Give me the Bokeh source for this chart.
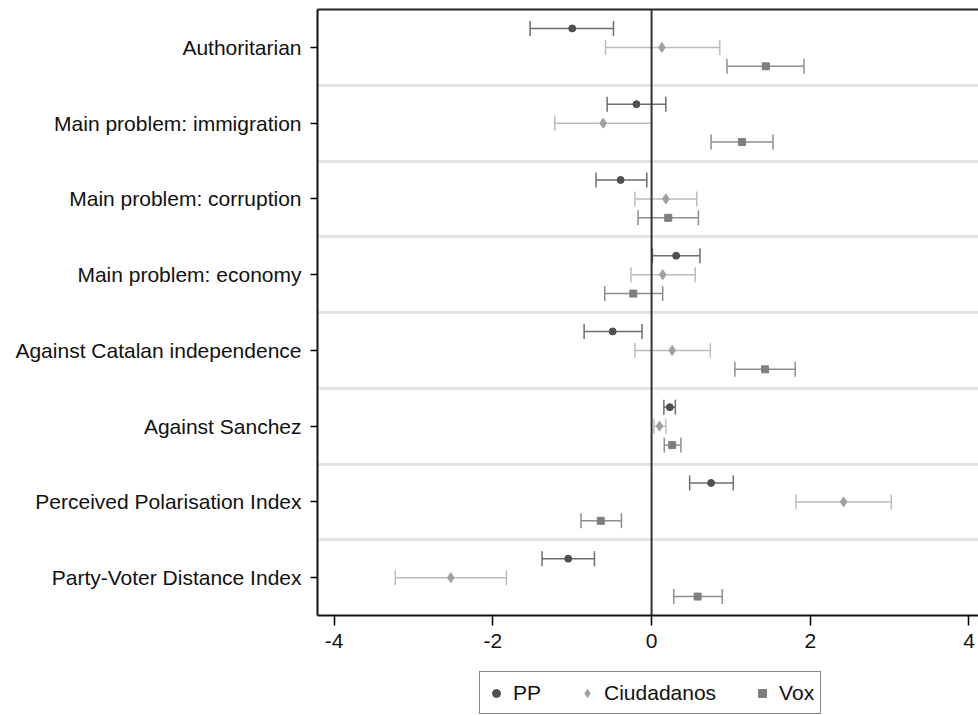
from bokeh.plotting import figure
from bokeh.layouts import column
from bokeh.models import (Range1d, FixedTicker, LinearAxis, Whisker, TeeHead,
                          ColumnDataSource, Span, Legend, LegendItem)
from bokeh.embed import file_html
from bokeh.resources import INLINE

categories = ["Authoritarian", "Main problem: immigration", "Main problem: corruption",
              "Main problem: economy", "Against Catalan independence", "Against Sanchez",
              "Perceived Polarisation Index", "Party-Voter Distance Index"]

pp_est = [-1.00, -0.19, -0.39, 0.31, -0.49, 0.23, 0.75, -1.05]
pp_lo = [-1.53, -0.56, -0.70, 0.01, -0.85, 0.155, 0.48, -1.38]
pp_hi = [-0.48, 0.18, -0.06, 0.61, -0.12, 0.30, 1.03, -0.72]

cs_est = [0.13, -0.61, 0.18, 0.14, 0.26, 0.10, 2.42, -2.53]
cs_lo = [-0.58, -1.22, -0.21, -0.26, -0.21, 0.03, 1.82, -3.23]
cs_hi = [0.86, 0.00, 0.57, 0.55, 0.74, 0.18, 3.02, -1.83]

vox_est = [1.44, 1.14, 0.21, -0.23, 1.43, 0.26, -0.64, 0.58]
vox_lo = [0.95, 0.75, -0.17, -0.59, 1.05, 0.16, -0.89, 0.28]
vox_hi = [1.92, 1.53, 0.59, 0.14, 1.81, 0.37, -0.38, 0.89]

x_ticks = [-4, -2, 0, 2, 4]
series_names = ["PP", "Ciudadanos", "Vox"]

FONT = "Liberation Sans"
FS = "21px"

p = figure(frame_width=661, frame_height=606, output_backend="svg", toolbar_location=None,
           x_range=Range1d(-4.21, 4.12), y_range=Range1d(8.5, 0.5),
           min_border_left=317, min_border_right=0, min_border_top=9,
           min_border_bottom=54,
           background_fill_color="white", border_fill_color="white")
p.outline_line_color = None

# grid: separators between groups
p.xgrid.visible = False
p.ygrid.ticker = FixedTicker(ticks=[i + 1.5 for i in range(len(categories) - 1)])
p.ygrid.grid_line_color = "#e2e2e2"
p.ygrid.grid_line_width = 3

# axes
p.xaxis.ticker = FixedTicker(ticks=x_ticks)
p.xaxis.major_label_overrides = {t: str(t) for t in x_ticks}
p.xaxis.minor_tick_line_color = None
p.xaxis.major_tick_out = 10
p.xaxis.major_tick_in = 0
p.xaxis.major_tick_line_width = 1.5
p.xaxis.major_label_standoff = 8
p.xaxis.axis_line_width = 2
p.xaxis.axis_line_color = "#111111"
p.xaxis.major_label_text_font = FONT
p.xaxis.major_label_text_font_size = FS
p.xaxis.major_label_text_color = "#111111"

p.yaxis.ticker = FixedTicker(ticks=list(range(1, len(categories) + 1)))
p.yaxis.major_label_overrides = {i + 1: c for i, c in enumerate(categories)}
p.yaxis.minor_tick_line_color = None
p.yaxis.major_tick_out = 7
p.yaxis.major_tick_in = 0
p.yaxis.major_tick_line_width = 1.5
p.yaxis.major_label_standoff = 9
p.yaxis.axis_line_width = 2
p.yaxis.axis_line_color = "#111111"
p.yaxis.major_label_text_font = FONT
p.yaxis.major_label_text_font_size = FS
p.yaxis.major_label_text_color = "#111111"

top = LinearAxis(ticker=FixedTicker(ticks=[]), axis_line_width=2, axis_line_color="#222222",
                 major_tick_line_color=None, minor_tick_line_color=None,
                 major_label_text_font_size="0px")
p.add_layout(top, "above")

# zero line
p.add_layout(Span(location=0, dimension="height", line_color="#333333", line_width=2))

offsets = [-0.25, 0.0, 0.25]
marker_types = ["circle", "diamond", "square"]
marker_sizes = [7, 10, 7]
legend_sizes = [5, 8, 6]
marker_colors = ["#505050", "#a0a0a0", "#7f7f7f"]
ci_colors = ["#6e6e6e", "#bdbdbd", "#8e8e8e"]
data = [(pp_est, pp_lo, pp_hi), (cs_est, cs_lo, cs_hi), (vox_est, vox_lo, vox_hi)]

sources = []
for k, (est, lo, hi) in enumerate(data):
    ys = [i + 1 + offsets[k] for i in range(len(categories))]
    src = ColumnDataSource(dict(y=ys, est=est, lo=lo, hi=hi))
    sources.append(src)
    w = Whisker(source=src, base="y", lower="lo", upper="hi", dimension="width",
                line_color=ci_colors[k], line_width=1.5,
                lower_head=TeeHead(size=15, line_color=ci_colors[k], line_width=1.5),
                upper_head=TeeHead(size=15, line_color=ci_colors[k], line_width=1.5))
    p.add_layout(w)
    p.scatter(x="est", y="y", source=src, marker=marker_types[k], size=marker_sizes[k],
              fill_color=marker_colors[k], line_color=marker_colors[k])

# legend strip (separate small figure so the legend is not clipped by the main frame)
lg = figure(width=978, height=46, output_backend="svg", toolbar_location=None,
            x_range=Range1d(0, 1), y_range=Range1d(0, 1), min_border=0,
            background_fill_color="white", border_fill_color="white")
lg.axis.visible = False
lg.grid.visible = False
lg.outline_line_color = None
items = []
for k in range(3):
    r = lg.scatter(x="est", y="y", source=ColumnDataSource(sources[k].data),
                   marker=marker_types[k], size=legend_sizes[k],
                   fill_color=marker_colors[k], line_color=marker_colors[k], visible=False)
    items.append(LegendItem(label=series_names[k], renderers=[r]))

legend = Legend(items=items, orientation="horizontal", location=(162, 1),
                label_text_font=FONT, label_text_font_size=FS, label_text_color="#111111",
                border_line_color="#111111", border_line_width=1.5,
                padding=6, spacing=36, glyph_width=20, label_standoff=7,
                label_height=29, margin=0, background_fill_alpha=1,
                click_policy="none", inactive_fill_alpha=0)
lg.add_layout(legend, "center")

layout = column(p, lg, spacing=0)
open("out.html", "w").write(file_html(layout, INLINE))
